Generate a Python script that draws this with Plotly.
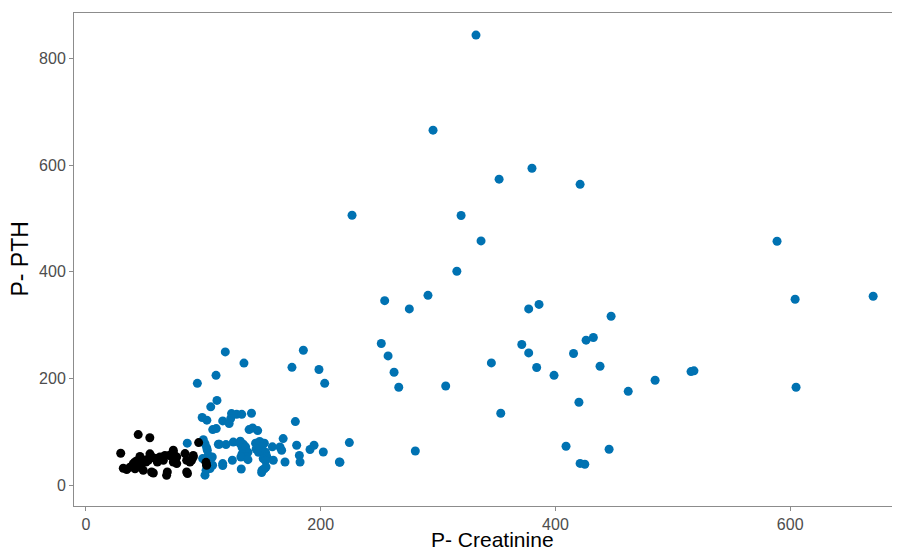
import plotly.graph_objects as go

# Group 1 (black)
black_creat = [29.6, 44.5, 54.4, 31.8, 34.7, 37.5, 40.3, 43.2, 46.0, 41.8, 46.0, 48.8, 51.6, 54.5,
               56.8, 48.8, 55.9, 57.4, 60.8, 64.4, 67.3, 69.3, 68.7, 71.0, 74.4, 74.4, 77.3, 75.8,
               74.4, 84.4, 91.4, 88.6, 85.8, 85.8, 86.5, 91.4, 96.0, 102.3, 51.1, 53.1, 60.2, 63.0,
               65.9, 71.6, 77.3, 90.0, 41.8, 102.8]
black_pth = [60, 95, 89, 32, 29.5, 34, 40.7, 45.6, 54, 31, 34, 43.7, 48, 59,
             52, 28, 25, 23, 43.7, 51, 56, 25, 18.7, 56, 62, 43.7, 53, 47,
             65.6, 59.4, 56, 43.7, 25, 47, 22, 53, 80, 43, 43.7, 47, 50, 53,
             47, 56, 40.7, 47, 43.7, 37.5]

# Group 2 (blue)
blue_creat = [332.3, 295.7, 380.0, 352.0, 421.0, 588.8, 604.2, 670.7, 447.4,
              226.7, 319.6, 336.6, 316.0, 254.5, 275.5, 291.4, 377.2, 386.0,
              251.6, 257.4, 262.5, 266.5, 306.5, 371.3, 377.2, 345.4, 384.0,
              415.4, 426.1, 432.3, 438.0, 398.8, 484.9, 515.5, 518.0, 462.0, 605.0,
              420.0, 353.4, 409.0, 421.0, 425.0, 445.7, 280.6, 224.4, 216.4,
              118.7, 134.6, 110.8, 94.9, 111.6, 106.3, 185.2, 175.5, 198.5, 203.4, 178.4,
              99.0, 103.0, 116.5, 124.0, 128.4, 132.7, 141.0, 123.3, 122.0,
              108.0, 111.0, 139.0, 142.0, 146.3,
              86.3, 100.0, 101.4, 102.8, 103.4, 104.2, 101.4, 102.8, 102.3, 101.4, 107.6,
              113.6, 119.3, 116.5, 124.7, 125.5, 116.5, 132.3, 131.5,
              131.0, 134.0, 133.0, 136.0, 135.0, 138.0, 133.0, 136.0, 132.0, 138.0,
              144.5, 148.0, 152.0, 150.0, 145.0, 147.0, 153.0, 154.0, 151.0, 153.0, 150.0, 152.0,
              149.7, 153.4, 158.8, 159.6, 168.0, 165.3, 166.7, 169.6, 179.5, 181.8, 182.4,
              190.9, 194.3, 202.2, 215.9, 99.4, 107.9, 105.7, 112.8]
blue_pth = [843.6, 665.5, 594, 573.7, 564, 457.4, 348.7, 354.3, 316.8,
            506, 505.6, 458, 401, 346, 330.5, 356, 330.5, 339,
            265.6, 242.4, 211.8, 183.7, 186, 263.8, 248, 229.3, 220.7,
            247, 272, 277, 223, 206, 196.8, 213, 214.5, 176, 183.7,
            155.6, 135, 73.1, 41, 39.4, 67.5, 64.3, 80, 43,
            250, 229, 206, 191, 159, 147, 253, 221, 217, 191, 119.4,
            127, 122, 120.6, 134.4, 133, 133, 135, 125, 115.6,
            104.4, 106.3, 104.4, 107.4, 102.5,
            79, 85.5, 78, 70.7, 65.6, 56, 47, 37.5, 28, 19, 53,
            77, 76.3, 40.7, 47, 81, 37, 30.6, 82.5,
            79, 77, 71, 72, 65, 62, 59, 54, 53, 48,
            79, 82, 79, 72, 68, 62, 62, 54, 50, 46, 28, 31,
            24, 34.3, 72, 47, 87.5, 71.8, 65.6, 43.7, 75, 56, 43.7,
            67, 75, 62.4, 43.7, 50, 37.5, 31.3, 76.9]

x_ticks = [0, 200, 400, 600]
y_ticks = [0, 200, 400, 600, 800]

fig = go.Figure()
fig.add_trace(go.Scatter(x=blue_creat, y=blue_pth, mode="markers",
                         marker=dict(color="#0072B2", size=9, line=dict(width=0)),
                         showlegend=False))
fig.add_trace(go.Scatter(x=black_creat, y=black_pth, mode="markers",
                         marker=dict(color="#000000", size=9, line=dict(width=0)),
                         showlegend=False))

axis_common = dict(showgrid=False, zeroline=False, showline=True, mirror=True,
                   linecolor="#8c8c8c", linewidth=1, ticks="outside", ticklen=4,
                   tickcolor="#8c8c8c", tickwidth=1,
                   tickfont=dict(family="Liberation Sans, Arial", size=16, color="#4D4D4D"))

# the page body adds an 8px offset; size the figure so the plot area lands at
# x 74..897, y 13..506 in the window
fig.update_layout(
    width=892, height=543,
    margin=dict(l=66, r=3, t=5, b=45),
    paper_bgcolor="white", plot_bgcolor="white",
    xaxis=dict(range=[-10.2, 691], tickvals=x_ticks, **axis_common),
    yaxis=dict(range=[-38.8, 885], tickvals=y_ticks, **axis_common),
    font=dict(family="Liberation Sans, Arial"),
    annotations=[
        dict(text="P- Creatinine", xref="paper", yref="paper", x=0.509, y=-0.068,
             xanchor="center", yanchor="middle", showarrow=False,
             font=dict(size=21, color="black", family="Liberation Sans, Arial")),
        dict(text="P- PTH", xref="paper", yref="paper", x=-0.0668, y=0.5,
             xanchor="center", yanchor="middle", showarrow=False, textangle=-90,
             font=dict(size=23, color="black", family="Liberation Sans, Arial")),
    ],
)

fig.write_html("out.html")
